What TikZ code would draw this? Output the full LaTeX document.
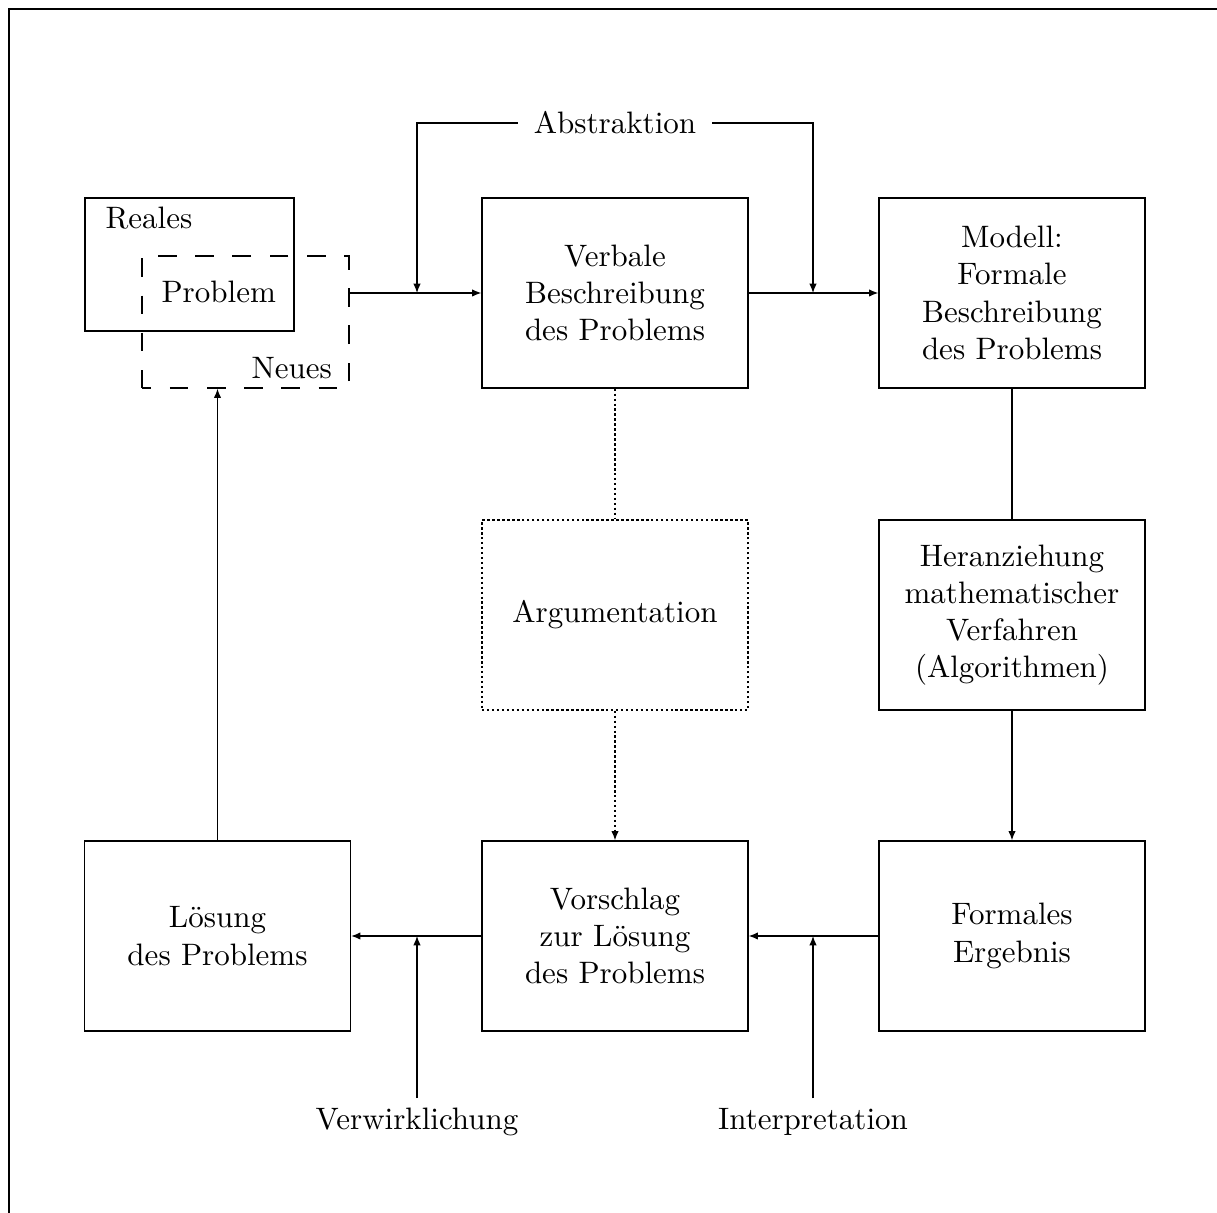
\documentclass[tikz,border=0pt]{standalone}
\usepackage{fontspec}
\usetikzlibrary{arrows.meta}
\begin{document}
\begin{tikzpicture}[
  x=0.3225pt, y=-0.3225pt,
  box/.style={draw, minimum width=85.8pt, minimum height=61.3pt, align=center, inner sep=0pt},
  arr/.style={-{Latex[length=3pt,width=2.4pt]}},
  dots/.style={dash pattern=on 0.8pt off 0.8pt},
  lab/.style={inner sep=3pt}
]
\useasboundingbox (0,0) rectangle (1217,1213);
% open frame
\draw[line width=0.6pt] (9.3,1213) -- (9.3,9) -- (1217,9);

% real problem and the new situation
\node[draw, minimum width=67.4pt, minimum height=42.9pt, inner sep=0pt] (reales) at (189.5,264.5) {};
\node[draw, dash pattern=on 6pt off 6pt, dash phase=3pt, minimum width=66.8pt, minimum height=42.6pt, inner sep=0pt] (neu) at (245.5,322) {};
\node[anchor=base west, inner sep=0pt] (treales) at (105,229) {Reales};
\node[anchor=base west, inner sep=0pt] (tproblem) at (161,303) {Problem};
\node[anchor=base west, inner sep=0pt] (tneues) at (251,379) {Neues};

% main boxes
\node[box] (verb) at (615,293) {Verbale\\Beschreibung\\des Problems};
\node[box] (modell) at (1012,293) {Modell:\\Formale\\Beschreibung\\des Problems};
\node[box, dots] (arg) at (615,615) {Argumentation};
\node[box] (heran) at (1012,615) {Heranziehung\\mathematischer\\Verfahren\\(Algorithmen)};
\node[box] (loes) at (217.5,936) {Lösung\\des Problems};
\node[box] (vor) at (615,936) {Vorschlag\\zur Lösung\\des Problems};
\node[box] (formal) at (1012,936) {Formales\\Ergebnis};

% labels on the connectors
\node[inner sep=5pt] (abs) at (615,123) {Abstraktion};
\node[lab] (verw) at (417,1122) {Verwirklichung};
\node[lab] (interp) at (813,1122) {Interpretation};

\coordinate (j1) at (417,293);
\coordinate (j2) at (813,293);
\coordinate (j3) at (813,936);
\coordinate (j4) at (417,936);

% connectors
\draw[arr] (neu.east |- verb.west) -- (verb.west);
\draw[arr] (verb.east) -- (modell.west);
\draw[arr] (abs.west) -| (j1);
\draw[arr] (abs.east) -| (j2);
\draw[dots] (verb.south) -- (arg.north);
\draw[dots, arr] (arg.south) -- (vor.north);
\draw (modell.south) -- (heran.north);
\draw[arr] (heran.south) -- (formal.north);
\draw[arr] (formal.west) -- (vor.east);
\draw[arr] (vor.west) -- (loes.east);
\draw[arr] (interp.north) -- (j3);
\draw[arr] (verw.north) -- (j4);
\draw[arr] (loes.north) -- (loes.north |- neu.south);
\end{tikzpicture}
\end{document}
